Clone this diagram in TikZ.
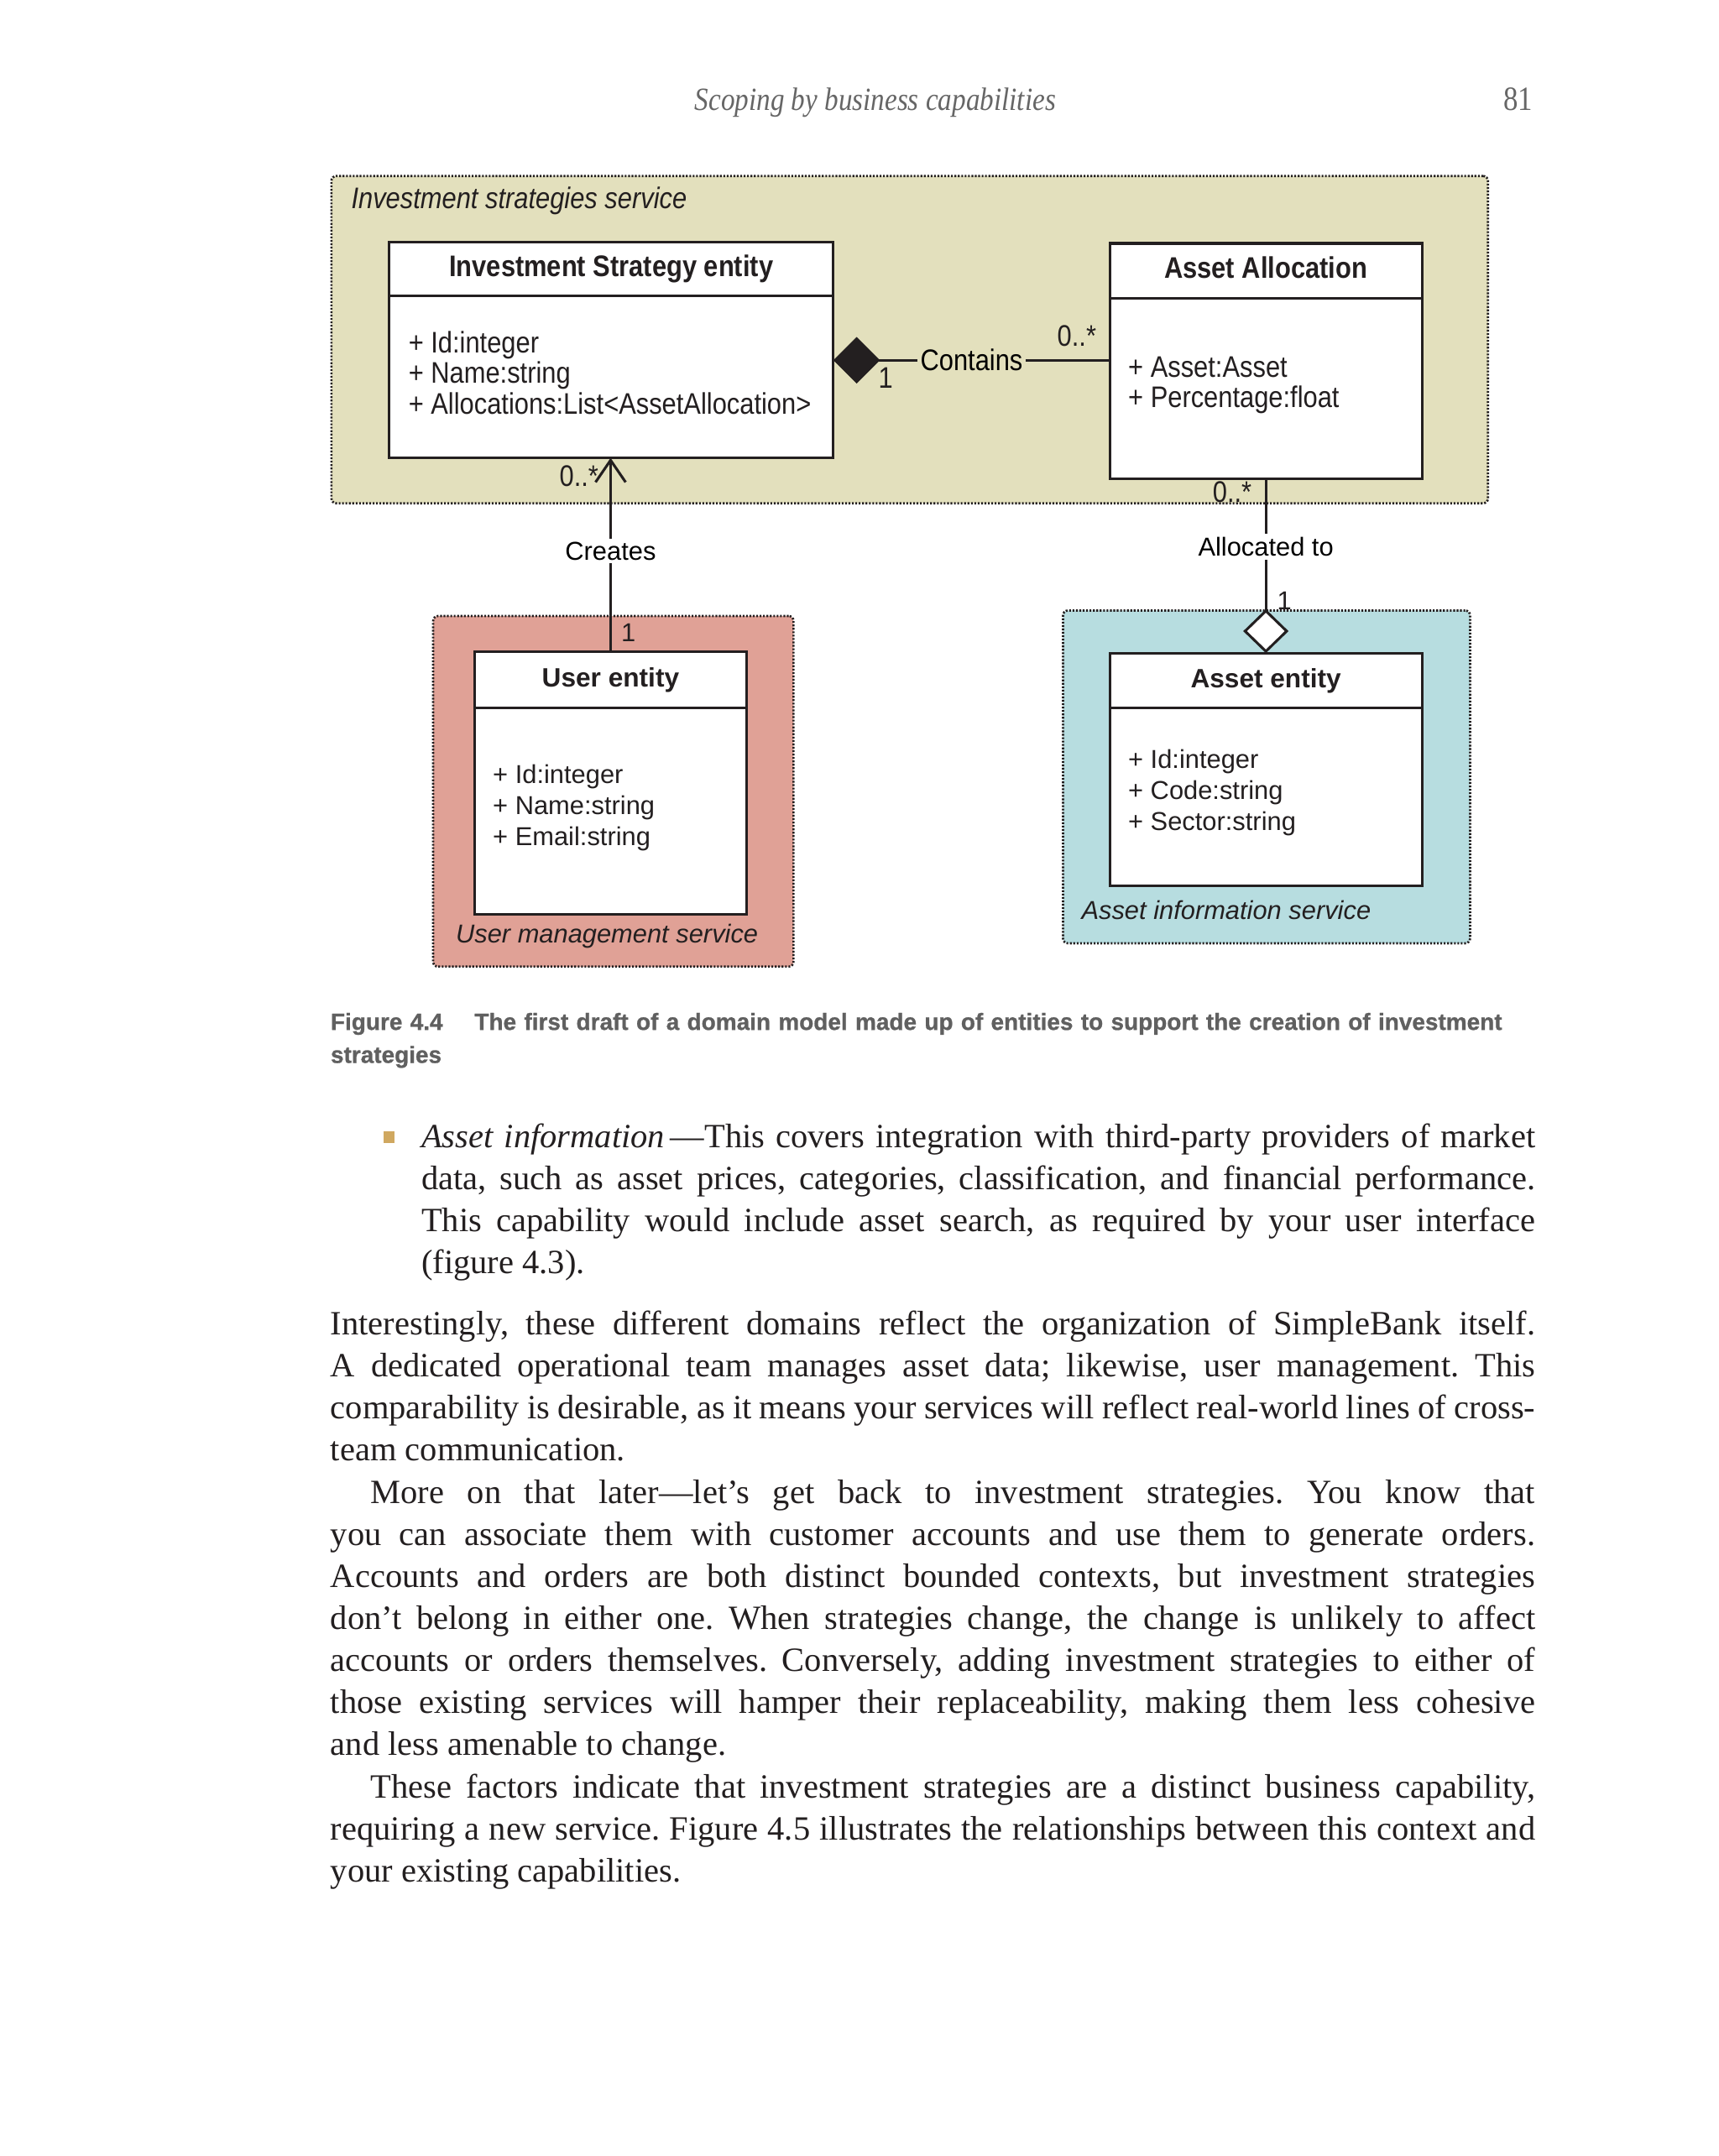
\documentclass[tikz,border=0pt]{standalone}
\usepackage{fontspec}
\setmainfont{Liberation Serif}
\newfontfamily\headfont[FakeStretch=0.86]{Liberation Serif}
\newfontfamily\umlfont{Liberation Sans}
\newfontfamily\umlnarrow[FakeStretch=0.87]{Liberation Sans}
\newfontfamily\capfont[FakeBold=0.8]{Liberation Sans}
\usetikzlibrary{positioning, arrows.meta}

\definecolor{stratbg}{RGB}{227,224,189}
\definecolor{userbg}{RGB}{224,161,150}
\definecolor{assetbg}{RGB}{183,221,224}
\definecolor{headgray}{RGB}{102,102,102}
\definecolor{capgray}{RGB}{96,96,96}
\definecolor{bulletcol}{RGB}{208,168,96}
\definecolor{ink}{RGB}{35,31,32}

% one pixel of the page scan
\newcommand\unitpx{0.4248pt}
\newcommand\prosetext{\fontsize{10.5}{12.96}\selectfont\frenchspacing
  \spaceskip=0.25em plus 0.3em minus 0.12em\relax
  \hyphenpenalty=10000\relax\tolerance=9999\relax}

\tikzset{
  service/.style={draw=ink, line width=0.7pt, dash pattern=on 0.55pt off 0.5pt,
    rounded corners=1.5pt, inner sep=0pt},
  entity/.style={draw=ink, fill=white, line width=0.8pt, inner sep=0pt, outer sep=0pt, text=ink},
  topfont/.style={font=\umlnarrow\fontsize{9.2}{9.35}\selectfont},
  topbold/.style={font=\umlnarrow\bfseries\fontsize{9.2}{11}\selectfont, text height=6.6pt, text depth=1.9pt},
  lowfont/.style={font=\umlfont\fontsize{8}{9.56}\selectfont},
  lowbold/.style={font=\umlfont\bfseries\fontsize{8.2}{10}\selectfont, text height=5.9pt, text depth=1.7pt},
  attrs/.style={anchor=west, align=left, inner sep=0pt, text=ink},
  svclabel/.style={anchor=west, inner sep=0pt, text=ink},
  assoc/.style={draw=ink, line width=0.8pt},
  mult/.style={inner sep=0pt, text=ink},
  prose/.style={anchor=base west, inner sep=0pt, align=justify, text=ink,
    font=\fontsize{10.5}{12.96}\selectfont},
}

\begin{document}
\begin{tikzpicture}[x=\unitpx, y=-\unitpx]
  \useasboundingbox (0,0) rectangle (1250,1568);
  \fill[white] (0,0) rectangle (1250,1568);

  % running head
  \node[anchor=base, inner sep=0pt, text=headgray, font=\headfont\itshape\fontsize{10}{12}\selectfont]
    (runhead) at (636.5,80) {Scoping by business capabilities};
  \node[anchor=base east, inner sep=0pt, text=headgray, font=\headfont\fontsize{10.5}{12}\selectfont]
    (folio) at (1115,80) {81};

  % services
  \node[service, fill=stratbg, minimum width=841*\unitpx, minimum height=238*\unitpx] (stratsvc) at (661.5,247) {};
  \node[svclabel, topfont] (stratlbl) at (255,146) {\itshape Investment strategies service};
  \node[service, fill=userbg, minimum width=262*\unitpx, minimum height=255*\unitpx] (usersvc) at (446,575.5) {};
  \node[svclabel, lowfont] (userlbl) at (331,681) {\itshape User management service};
  \node[service, fill=assetbg, minimum width=296*\unitpx, minimum height=242*\unitpx] (assetsvc) at (921,565) {};
  \node[svclabel, lowfont] (assetlbl) at (786,662) {\itshape Asset information service};

  % entities
  \node[entity, topbold, minimum width=323*\unitpx, minimum height=39*\unitpx] (strathead) at (444.5,195.5) {Investment Strategy entity};
  \node[entity, minimum width=323*\unitpx, minimum height=118*\unitpx, below=0pt of strathead] (stratbody) {};
  \node[attrs, topfont] (stratattr) at ([xshift=5.8pt, yshift=1.2pt]stratbody.west)
    {+ Id:integer\\+ Name:string\\+ Allocations:List<AssetAllocation>};

  \node[entity, topbold, minimum width=227*\unitpx, minimum height=40*\unitpx] (allochead) at (920.5,197) {Asset Allocation};
  \node[entity, minimum width=227*\unitpx, minimum height=131*\unitpx, below=0pt of allochead] (allocbody) {};
  \node[attrs, topfont] (allocattr) at ([xshift=5.5pt, yshift=0.9pt]allocbody.west)
    {+ Asset:Asset\\+ Percentage:float};

  \node[entity, lowbold, minimum width=198*\unitpx, minimum height=41*\unitpx] (userhead) at (444,494.5) {User entity};
  \node[entity, minimum width=198*\unitpx, minimum height=150*\unitpx, below=0pt of userhead] (userbody) {};
  \node[attrs, lowfont] (userattr) at ([xshift=5.5pt, yshift=1.1pt]userbody.west)
    {+ Id:integer\\+ Name:string\\+ Email:string};

  \node[entity, lowbold, minimum width=227*\unitpx, minimum height=40*\unitpx] (assethead) at (920.5,495) {Asset entity};
  \node[entity, minimum width=227*\unitpx, minimum height=129*\unitpx, below=0pt of assethead] (assetbody) {};
  \node[attrs, lowfont] (assetattr) at ([xshift=5.5pt, yshift=1.3pt]assetbody.west)
    {+ Id:integer\\+ Code:string\\+ Sector:string};

  % associations
  \draw[assoc, {Diamond[length=14.4pt, width=14.4pt]}-] ([yshift=5.1pt]stratbody.east) coordinate (contl)
    -- (contl -| allocbody.west) node[midway, fill=stratbg, inner sep=1pt, topfont] (contlbl) {Contains};
  \node[mult, topfont] (contone) at (644,275) {1};
  \node[mult, topfont] (contmany) at (783,244) {0..*};

  \draw[assoc, -{Straight Barb[length=6.8pt, width=9.3pt]}] (userhead.north) -- (userhead.north |- stratbody.south)
    node[pos=0.52, fill=white, inner sep=1pt, lowfont] (createlbl) {Creates};
  \node[mult, topfont] (createmany) at (421,346) {0..*};
  \node[mult, lowfont] (createone) at (457,460) {1};

  \draw[assoc, -{Diamond[fill=white, length=13.6pt, width=14pt]}] (allocbody.south) -- (assethead.north)
    node[pos=0.39, fill=white, inner sep=1pt, lowfont] (alloclbl) {Allocated to};
  \node[mult, topfont] (allocmany) at (896,358) {0..*};
  \node[mult, lowfont] (allocone) at (934,437) {1};

  % caption
  \node[anchor=base west, inner sep=0pt, text width=372pt, align=left, text=capgray,
    font=\capfont\bfseries\fontsize{7.25}{10.2}\selectfont] (caption) at (240,749)
    {Figure 4.4\hspace{9.8pt}The first draft of a domain model made up of entities to support the creation of investment\\strategies};

  % text below the figure
  \node[fill=bulletcol, minimum size=3.4pt, inner sep=0pt] (bullet) at (283,827) {};
  \node[prose, text width=344.1pt] (bullettext) at (306,834.5) {\prosetext
    \textit{Asset information}\,—This covers integration with third-party providers of market\linebreak
    data, such as asset prices, categories, classification, and financial performance.\linebreak
    This capability would include asset search, as required by your user interface\linebreak
    (figure 4.3).};
  \node[prose, text width=372.1pt] (paraone) at (240,970.5) {\prosetext
    Interestingly, these different domains reflect the organization of SimpleBank itself.\linebreak
    A dedicated operational team manages asset data; likewise, user management. This\linebreak
    comparability is desirable, as it means your services will reflect real-world lines of cross-\linebreak
    team communication.};
  \node[prose, text width=372.1pt] (paratwo) at (240,1093.5) {\prosetext\hspace*{12.3pt}%
    More on that later—let’s get back to investment strategies. You know that\linebreak
    you can associate them with customer accounts and use them to generate orders.\linebreak
    Accounts and orders are both distinct bounded contexts, but investment strategies\linebreak
    don’t belong in either one. When strategies change, the change is unlikely to affect\linebreak
    accounts or orders themselves. Conversely, adding investment strategies to either of\linebreak
    those existing services will hamper their replaceability, making them less cohesive\linebreak
    and less amenable to change.};
  \node[prose, text width=372.1pt] (parathree) at (240,1307.5) {\prosetext\hspace*{12.3pt}%
    These factors indicate that investment strategies are a distinct business capability,\linebreak
    requiring a new service. Figure 4.5 illustrates the relationships between this context and\linebreak
    your existing capabilities.};
\end{tikzpicture}
\end{document}
